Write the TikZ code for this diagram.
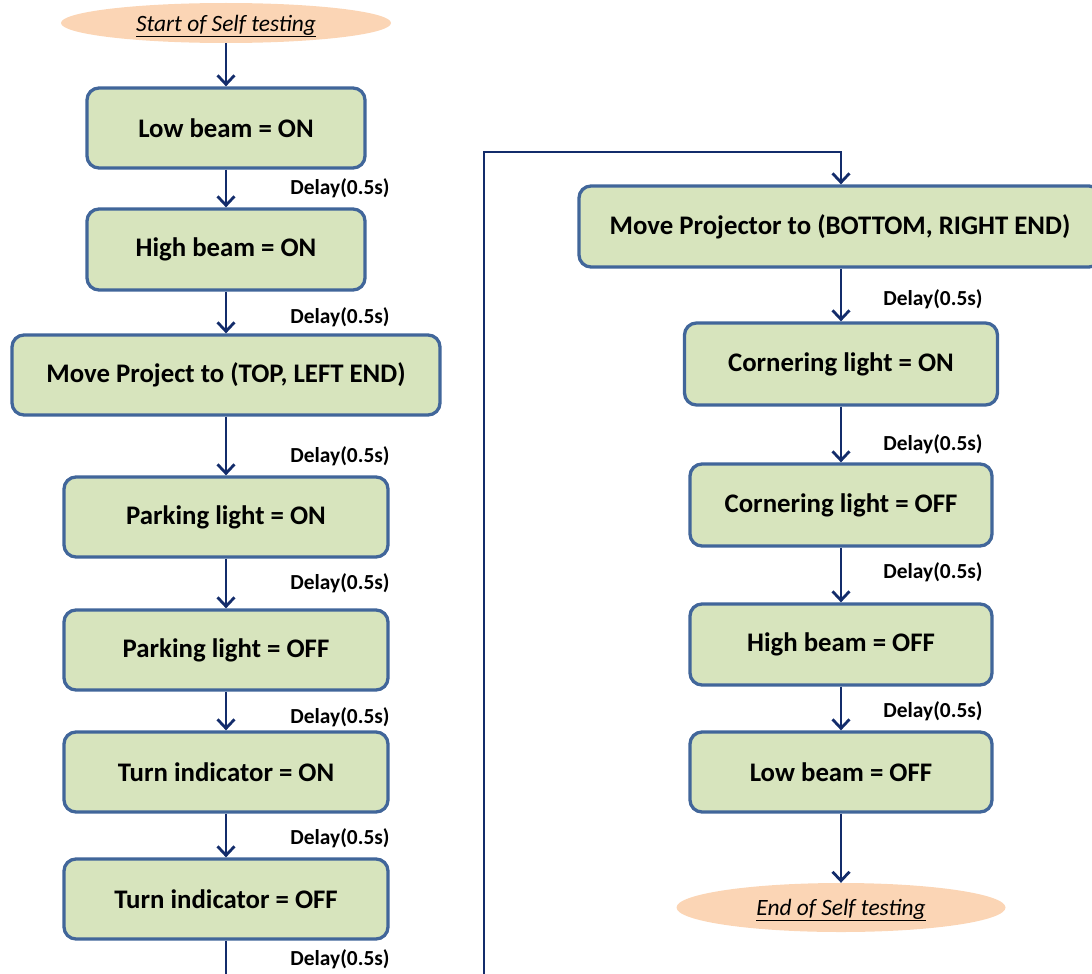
\documentclass[tikz,border=0pt]{standalone}
\usepackage{fontspec}
\setmainfont{Carlito}
\usetikzlibrary{arrows.meta,shapes.geometric}
\definecolor{boxfill}{HTML}{D7E4BD}
\definecolor{boxline}{HTML}{41669A}
\definecolor{arr}{HTML}{132C6B}
\definecolor{ovalfill}{HTML}{FBD5B5}
\tikzset{
 box/.style={draw=boxline, fill=boxfill, line width=3.3pt, rounded corners=12pt, font=\fontsize{26.8}{30}\selectfont\bfseries, inner sep=0pt},
 oval/.style={ellipse, fill=ovalfill, inner sep=0pt, font=\fontsize{23.4}{27}\selectfont\itshape},
 delay/.style={font=\fontsize{21.4}{24}\selectfont\bfseries, inner sep=0pt},
 flow/.style={draw=arr, line width=2.8pt, -{Straight Barb[length=9pt,width=17pt,line width=2.8pt]}},
}
\begin{document}
\begin{tikzpicture}[x=1pt,y=-1pt]
\useasboundingbox (0,0) rectangle (1092,974);
\clip (0,0) rectangle (1092,974);
% left column
\node[oval, minimum width=330, minimum height=40] (start) at (226,23) {};
\node[font=\fontsize{23.4}{27}\selectfont\itshape, inner sep=0pt] (starttext) at (226,26) {\underline{Start of Self testing}};
\node[box, minimum width=278, minimum height=80] (b1) at (226,128) {Low beam = ON};
\node[box, minimum width=278, minimum height=81] (b2) at (226,249.5) {High beam = ON};
\node[box, minimum width=428, minimum height=80] (b3) at (226,375) {Move Project to (TOP, LEFT END)};
\node[box, minimum width=324, minimum height=80] (b4) at (226,517) {Parking light = ON};
\node[box, minimum width=324, minimum height=80] (b5) at (226,650) {Parking light = OFF};
\node[box, minimum width=324, minimum height=80] (b6) at (226,772) {Turn indicator = ON};
\node[box, minimum width=324, minimum height=80] (b7) at (226,899) {Turn indicator = OFF};
% right column
\node[box, minimum width=522, minimum height=81] (r1) at (840,226.5) {Move Projector to (BOTTOM, RIGHT END)};
\node[box, minimum width=313, minimum height=82] (r2) at (841,364) {Cornering light = ON};
\node[box, minimum width=302, minimum height=82] (r3) at (841,505) {Cornering light = OFF};
\node[box, minimum width=302, minimum height=81] (r4) at (841,644.5) {High beam = OFF};
\node[box, minimum width=302, minimum height=80] (r5) at (841,772) {Low beam = OFF};
\node[oval, minimum width=329, minimum height=49] (end) at (841,907.5) {};
\node[font=\fontsize{23.4}{27}\selectfont\itshape, inner sep=0pt] (endtext) at (841,910) {\underline{End of Self testing}};
% delay labels
\node[delay] (d1) at (340,188) {Delay(0.5s)};
\node[delay] (d2) at (340,317) {Delay(0.5s)};
\node[delay] (d3) at (340,456) {Delay(0.5s)};
\node[delay] (d4) at (340,583) {Delay(0.5s)};
\node[delay] (d5) at (340,717) {Delay(0.5s)};
\node[delay] (d6) at (340,838) {Delay(0.5s)};
\node[delay] (d7) at (340,959) {Delay(0.5s)};
\node[delay] (e1) at (933,299) {Delay(0.5s)};
\node[delay] (e2) at (933,444) {Delay(0.5s)};
\node[delay] (e3) at (933,572) {Delay(0.5s)};
\node[delay] (e4) at (933,711) {Delay(0.5s)};
% connectors
\draw[flow] (start) -- (b1);
\draw[flow] (b1) -- (b2);
\draw[flow] (b2) -- (b3);
\draw[flow] (b3) -- (b4);
\draw[flow] (b4) -- (b5);
\draw[flow] (b5) -- (b6);
\draw[flow] (b6) -- (b7);
\coordinate (lb) at (484,975);
\coordinate (lt) at (484,152);
\draw[flow] (b7.south) |- (lb) -- (lt) -| (r1.north -| r2.north);
\draw[flow] (r1.south -| r2.north) -- (r2);
\draw[flow] (r2) -- (r3);
\draw[flow] (r3) -- (r4);
\draw[flow] (r4) -- (r5);
\draw[flow] (r5) -- (end);
\end{tikzpicture}
\end{document}
